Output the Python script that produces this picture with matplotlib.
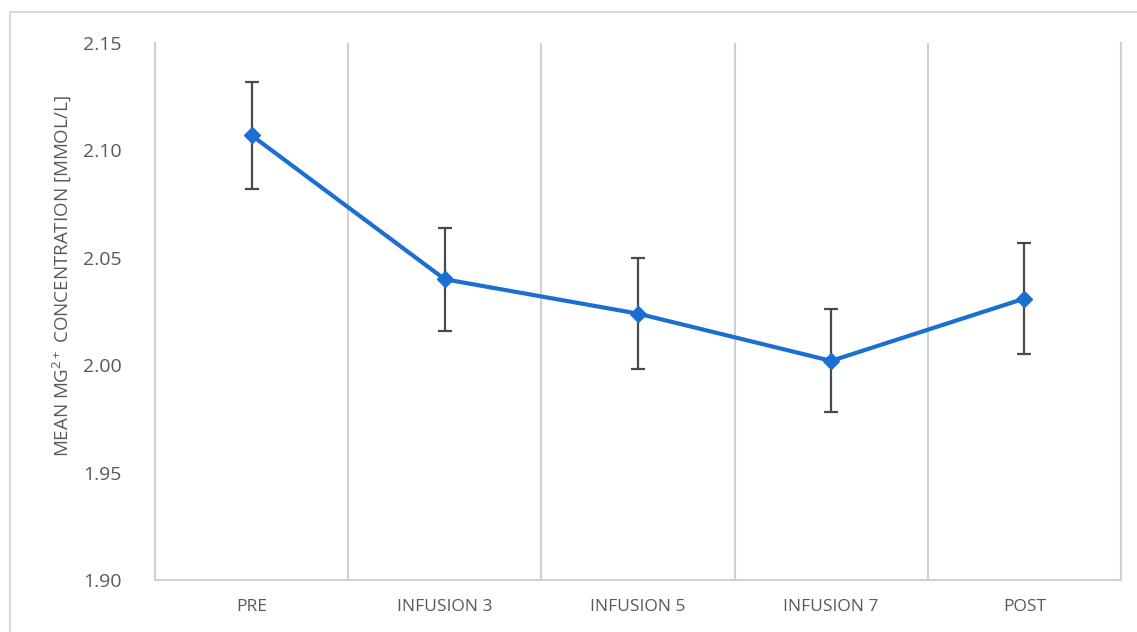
import numpy as np
import matplotlib.pyplot as plt
from matplotlib.patches import Rectangle

# 数据
stages = ['PRE', 'INFUSION 3', 'INFUSION 5', 'INFUSION 7', 'POST']
mg_mean = [2.107, 2.040, 2.024, 2.002, 2.031]
mg_err = [0.025, 0.024, 0.026, 0.024, 0.026]
y_ticks = [1.90, 1.95, 2.00, 2.05, 2.10, 2.15]

plt.rcParams['font.family'] = ['Open Sans', 'DejaVu Sans']
plt.rcParams['mathtext.fontset'] = 'custom'
plt.rcParams['mathtext.rm'] = 'Open Sans'

fig = plt.figure(figsize=(11.37, 6.32), dpi=100)
ax = fig.add_axes([0.1363, 0.0823, 0.8496, 0.8497])

# 外框
fig.patches.append(Rectangle((10 / 1137, -0.1), 1.2, 1.1 - 12 / 632, transform=fig.transFigure,
                             fill=False, edgecolor='#d9d9d9', lw=1.5))

x = np.arange(len(stages))
ax.errorbar(x, mg_mean, yerr=mg_err, color='#1a6fd1', lw=3, marker='D', markersize=8,
            ecolor='#4a4a4a', elinewidth=1.6, capsize=5, capthick=1.6, zorder=3)

ax.set_xlim(-0.5, len(stages) - 0.5)
ax.set_ylim(1.90, 2.15)
ax.set_yticks(y_ticks)
ax.set_yticklabels(['{:.2f}'.format(v) for v in y_ticks])
ax.set_xticks(x)
ax.set_xticklabels(stages)
ax.set_xticks(np.arange(0.5, len(stages) - 1, 1), minor=True)
ax.grid(True, axis='x', which='minor', color='#d0d0d0', lw=1.5)
ax.tick_params(axis='both', which='both', length=0, colors='#595959')
ax.tick_params(axis='y', labelsize=14, pad=24)
ax.tick_params(axis='x', labelsize=12.5, pad=14)

for s in ['left', 'bottom', 'right']:
    ax.spines[s].set_color('#d0d0d0')
    ax.spines[s].set_linewidth(1.5)
ax.spines['top'].set_visible(False)

ax.set_ylabel('MEAN MG$^{2+}$ CONCENTRATION [MMOL/L]', fontsize=13.5, color='#595959')
ax.yaxis.set_label_coords(-0.084, 0.566)

plt.savefig('out.png', dpi=100)
